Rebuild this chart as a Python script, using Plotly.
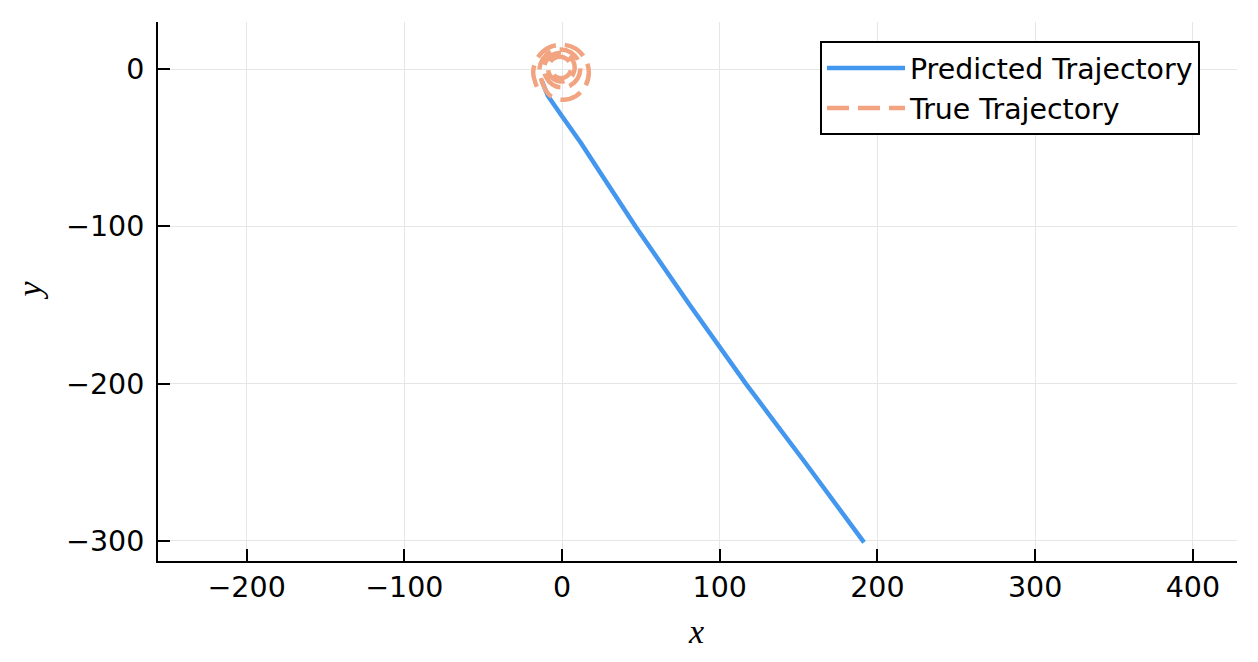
import plotly.graph_objects as go

# Predicted trajectory
pred_x = [-13.0, -9.0, 0.0, 12.0, 25.0, 46.5, 81.0, 116.5, 154.0, 191.5]
pred_y = [-7.0, -17.0, -30.0, -47.0, -67.0, -100.0, -150.0, -200.0, -250.0, -301.0]

# True trajectory (damped spiral)
true_x = [-16.0, -18.3, -15.6, -8.9, 0.0, 8.65, 14.7, 17.0, 14.9, 8.75, 0.0, -8.25,
          -12.84, -14.41, -12.26, -7.13, -0.5, 5.82, 10.19, 11.55, 9.68, 5.24, -0.5, -5.98,
          -10.26, -11.43, -9.82, -5.98, -1.0, 3.74, 7.02, 8.04, 6.64, 3.31, -1.0, -5.11,
          -7.95, -8.83, -7.62, -4.73, -1.0, 2.56, 5.01, 5.78, 4.73, 2.23, -1.0, -4.08, -6.20]
true_y = [-11.25, -2.0, 7.0, 13.4, 15.5, 13.0, 6.5, -2.0, -10.6, -17.2, -19.5, -16.3,
          -7.63, -0.5, 6.29, 10.98, 12.45, 10.45, 5.67, -0.5, -6.38, -10.44, -11.71, -9.98,
          -4.85, 0.5, 5.60, 9.12, 10.21, 8.71, 5.13, 0.5, -3.91, -6.96, -7.91, -6.61,
          -3.51, 0.5, 4.32, 6.96, 7.78, 6.66, 3.97, 0.5, -2.81, -5.09, -5.81, -4.83, -2.51]

x_ticks = [-200, -100, 0, 100, 200, 300, 400]
y_ticks = [-300, -200, -100, 0]


def fmt(v):
    return ("\u2212" + str(-v)) if v < 0 else str(v)


fig = go.Figure()
fig.add_trace(go.Scatter(x=pred_x, y=pred_y, mode="lines", name="Predicted Trajectory",
                         line=dict(color="#4497EE", width=4.5)))
fig.add_trace(go.Scatter(x=true_x, y=true_y, mode="lines", name="True Trajectory",
                         line=dict(color="#F2A481", width=4.5, dash="22px,9px", shape="spline")))

axis_common = dict(showline=True, linecolor="black", linewidth=2, mirror=False,
                   ticks="inside", ticklen=12, tickwidth=2, tickcolor="black",
                   showgrid=True, gridcolor="#E6E6E6", gridwidth=1, zeroline=False,
                   tickfont=dict(family="DejaVu Sans", size=28.5, color="black"))

fig.update_xaxes(range=[-256.2, 428.0], tickvals=x_ticks,
                 ticktext=[fmt(v) for v in x_ticks], **axis_common)
fig.update_yaxes(range=[-312.8, 29.9], tickvals=y_ticks,
                 ticktext=[fmt(v) for v in y_ticks],
                 ticklabelstandoff=6, **axis_common)

fig.update_layout(
    width=1250, height=654,
    margin=dict(l=150, r=21, t=14, b=101),
    plot_bgcolor="white", paper_bgcolor="white",
    showlegend=True,
    legend=dict(x=0.9657, y=0.9647, xanchor="right", yanchor="top",
                bgcolor="white", bordercolor="black", borderwidth=2,
                font=dict(family="DejaVu Sans", size=28.4, color="black"),
                itemwidth=78, tracegroupgap=0),
    annotations=[
        dict(text="<i>x</i>", xref="paper", yref="paper", x=0.4986, y=-0.13,
             xanchor="center", yanchor="middle", showarrow=False,
             font=dict(family="Liberation Serif", size=34, color="black")),
        dict(text="<i>y</i>", xref="paper", yref="paper", x=-0.119, y=0.503,
             xanchor="center", yanchor="middle", showarrow=False, textangle=-90,
             font=dict(family="Liberation Serif", size=34, color="black")),
    ],
)

fig.write_html("out.html")
